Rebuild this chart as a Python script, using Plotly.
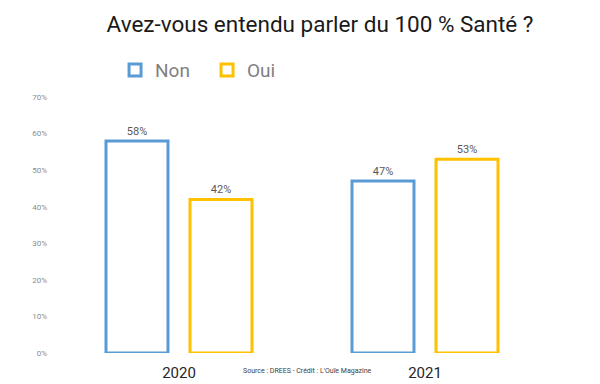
import plotly.graph_objects as go

years = ["2020", "2021"]
non_vals = [58, 47]
oui_vals = [42, 53]
y_ticks = [0, 10, 20, 30, 40, 50, 60, 70]
y_tick_labels = [f"{v}%" for v in y_ticks]

FONT = "Roboto"

fig = go.Figure()
fig.add_trace(go.Bar(
    name="Non", x=years, y=non_vals,
    marker=dict(color="white", line=dict(color="#5B9BD5", width=3)),
    text=[f"{v}%" for v in non_vals], textposition="outside",
    textfont=dict(size=11, color="#595959", family=FONT), cliponaxis=False,
))
fig.add_trace(go.Bar(
    name="Oui", x=years, y=oui_vals,
    marker=dict(color="white", line=dict(color="#FFC000", width=3)),
    text=[f"{v}%" for v in oui_vals], textposition="outside",
    textfont=dict(size=11, color="#595959", family=FONT), cliponaxis=False,
))

fig.update_layout(
    width=600, height=384,
    margin=dict(l=48, r=60, t=89, b=39, autoexpand=False),
    paper_bgcolor="white", plot_bgcolor="white",
    barmode="group", bargap=0.317, bargroupgap=0.262,
    font=dict(family=FONT),
    title=dict(text="Avez-vous entendu parler du 100 % Santé ?",
               x=0.52, xanchor="center", y=0.958, yanchor="middle",
               font=dict(size=22.5, color="#1a1a1a", family=FONT)),
    legend=dict(orientation="h", x=0.12, xanchor="left", y=1.105, yanchor="middle",
                font=dict(size=19, color="#7f7f7f", family=FONT),
                itemwidth=30, entrywidth=47, traceorder="normal"),
    showlegend=True,
    xaxis=dict(showgrid=False, showline=False, zeroline=False, ticks="",
               automargin=False, ticklabelstandoff=9,
               tickfont=dict(size=15, color="#262626", family=FONT)),
    yaxis=dict(range=[0, 70], tickvals=y_ticks, ticktext=y_tick_labels,
               showgrid=False, showline=False, zeroline=False, ticks="",
               automargin=False, ticklabelstandoff=8,
               tickfont=dict(size=8, color="#8c8c8c", family=FONT)),
    annotations=[dict(text="Source : DREES - Crédit : L'Ouïe Magazine",
                      xref="paper", yref="paper", x=0.512, y=-0.072,
                      xanchor="center", yanchor="middle", showarrow=False,
                      font=dict(size=7, color="#404040", family=FONT))],
)

fig.write_html("out.html")
